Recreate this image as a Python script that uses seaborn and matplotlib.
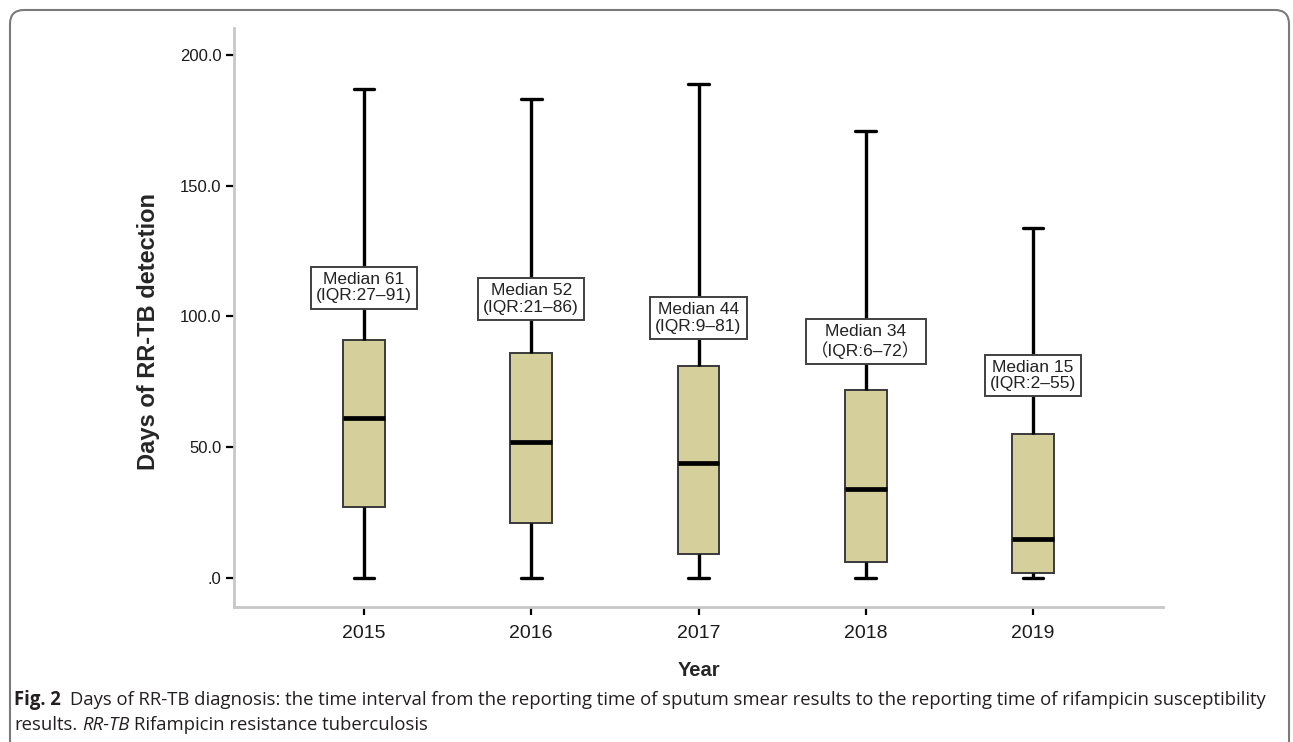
import numpy as np
import pandas as pd
import matplotlib
matplotlib.use("Agg")
import matplotlib.pyplot as plt
from matplotlib.patches import FancyBboxPatch
from matplotlib.transforms import IdentityTransform
import seaborn as sns

# Five-number summaries of days to RR-TB detection, per year
years = ["2015", "2016", "2017", "2018", "2019"]
day_min = [0, 0, 0, 0, 0]
day_q1 = [27, 21, 9, 6, 2]
day_median = [61, 52, 44, 34, 15]
day_q3 = [91, 86, 81, 72, 55]
day_max = [187, 183, 189, 171, 134]
ytick_values = [0, 50, 100, 150, 200]
ytick_labels = [".0", "50.0", "100.0", "150.0", "200.0"]
label_brackets = [("(", ")"), ("(", ")"), ("(", ")"), ("（", "）"), ("(", ")")]

# layout: gap between the upper quartile and the centre of each median label
label_gap = [20, 20.7, 18.4, 18.4, 22.4]

# Expand each summary to five observations; linear quartiles of these
# five points reproduce the summary exactly.
rows = []
for i, yr in enumerate(years):
    for v in (day_min[i], day_q1[i], day_median[i], day_q3[i], day_max[i]):
        rows.append({"Year": yr, "Days": v})
df = pd.DataFrame(rows)

sns.set_theme(style="white")
plt.rcParams["font.family"] = ["Liberation Sans", "Noto Sans CJK SC", "DejaVu Sans"]

W, H = 1293, 742
fig = plt.figure(figsize=(W / 100, H / 100), dpi=100)


def px_rect(left, top, right, bottom):
    return [left / W, 1 - bottom / H, (right - left) / W, (bottom - top) / H]


ax = fig.add_axes(px_rect(234, 28, 1163, 607))

sns.boxplot(
    data=df, x="Year", y="Days", order=years, whis=(0, 100), width=0.25,
    color="#d4cf9b", saturation=1, linecolor="black", linewidth=2.4,
    fliersize=0, ax=ax,
)

# box outlines thin and dark grey, medians heavy
for patch in ax.patches:
    patch.set_edgecolor("#3a3a3a")
    patch.set_linewidth(1.4)
for line in ax.lines:
    xd, yd = np.asarray(line.get_xdata()), np.asarray(line.get_ydata())
    if len(xd) == 2 and yd[0] == yd[1]:
        span = abs(xd[1] - xd[0])
        if span > 0.2:
            line.set_linewidth(3.4)
            line.set_zorder(4)
    line.set_color("black")

# median / IQR call-outs
for i in range(len(years)):
    lo, hi = label_brackets[i]
    txt = f"Median {day_median[i]}\n{lo}IQR:{day_q1[i]}–{day_q3[i]}{hi}"
    ax.text(i, day_q3[i] + label_gap[i], txt, ha="center", va="center",
            fontsize=12.5, linespacing=1.12, color="#222222", zorder=6,
            bbox=dict(boxstyle="square,pad=0.3", fc="white", ec="#404040", lw=1.4))

ax.set_xlim(-0.777, 4.777)
ax.set_ylim(-11.1, 210.3)
ax.set_yticks(ytick_values)
ax.set_yticklabels(ytick_labels)

for s in ["top", "right"]:
    ax.spines[s].set_visible(False)
for s in ["left", "bottom"]:
    ax.spines[s].set_color("#c8c8c8")
    ax.spines[s].set_linewidth(2)

ax.tick_params(axis="both", direction="out", length=6, width=1.6,
               color="black", bottom=True, left=True, labelcolor="#1a1a1a")
ax.tick_params(axis="y", labelsize=12, pad=3)
ax.tick_params(axis="x", labelsize=14, pad=7)

ax.set_xlabel("Year", fontsize=14.5, fontweight="bold", va="center")
ax.xaxis.set_label_coords(0.501, -0.109)
ax.set_ylabel("Days of RR-TB detection", fontsize=17, fontweight="bold", va="center")
ax.yaxis.set_label_coords((148 - 234) / 929, (607 - 331) / 579)

# rounded outer frame, lower edge runs off the page
frame = FancyBboxPatch((10, H - 756), 1279, 746,
                       boxstyle="round,pad=0,rounding_size=14",
                       transform=IdentityTransform(), fc="none",
                       ec="#7a7a7a", lw=1.5)
fig.add_artist(frame)

# caption
cap_font = ["Open Sans", "DejaVu Sans"]
cap_color = "#231f20"
renderer = fig.canvas.get_renderer()

line1 = [("Fig. 2", "bold", "normal"),
         ("Days of RR-TB diagnosis: the time interval from the reporting time of sputum "
          "smear results to the reporting time of rifampicin susceptibility", "normal", "normal")]
line2 = [("results.", "normal", "normal"), ("RR-TB", "normal", "italic"),
         ("Rifampicin resistance tuberculosis", "normal", "normal")]
gaps1 = [2.0]
gaps2 = [1.0, 1.0]


def space_width(fs):
    a = fig.text(0, 0, "x x", fontsize=fs, family=cap_font)
    b = fig.text(0, 0, "xx", fontsize=fs, family=cap_font)
    w = a.get_window_extent(renderer).width - b.get_window_extent(renderer).width
    a.remove()
    b.remove()
    return w


def draw_runs(runs, gaps, x_px, y_px, fs):
    sw = space_width(fs)
    x = x_px
    artists = []
    for k, (s, weight, style) in enumerate(runs):
        t = fig.text(x / W, 1 - y_px / H, s, fontsize=fs, fontweight=weight,
                     fontstyle=style, family=cap_font, va="center", ha="left",
                     color=cap_color)
        artists.append(t)
        x = t.get_window_extent(renderer).x1
        if k < len(gaps):
            x += gaps[k] * sw
    return x, artists


fs = 12.0
for _ in range(4):
    end, arts = draw_runs(line1, gaps1, 14, 700, fs)
    for a in arts:
        a.remove()
    fs = fs * (1266 - 14) / (end - 14)
draw_runs(line1, gaps1, 14, 700, fs)
draw_runs(line2, gaps2, 14, 725, fs)

fig.savefig("out.png", dpi=100)
